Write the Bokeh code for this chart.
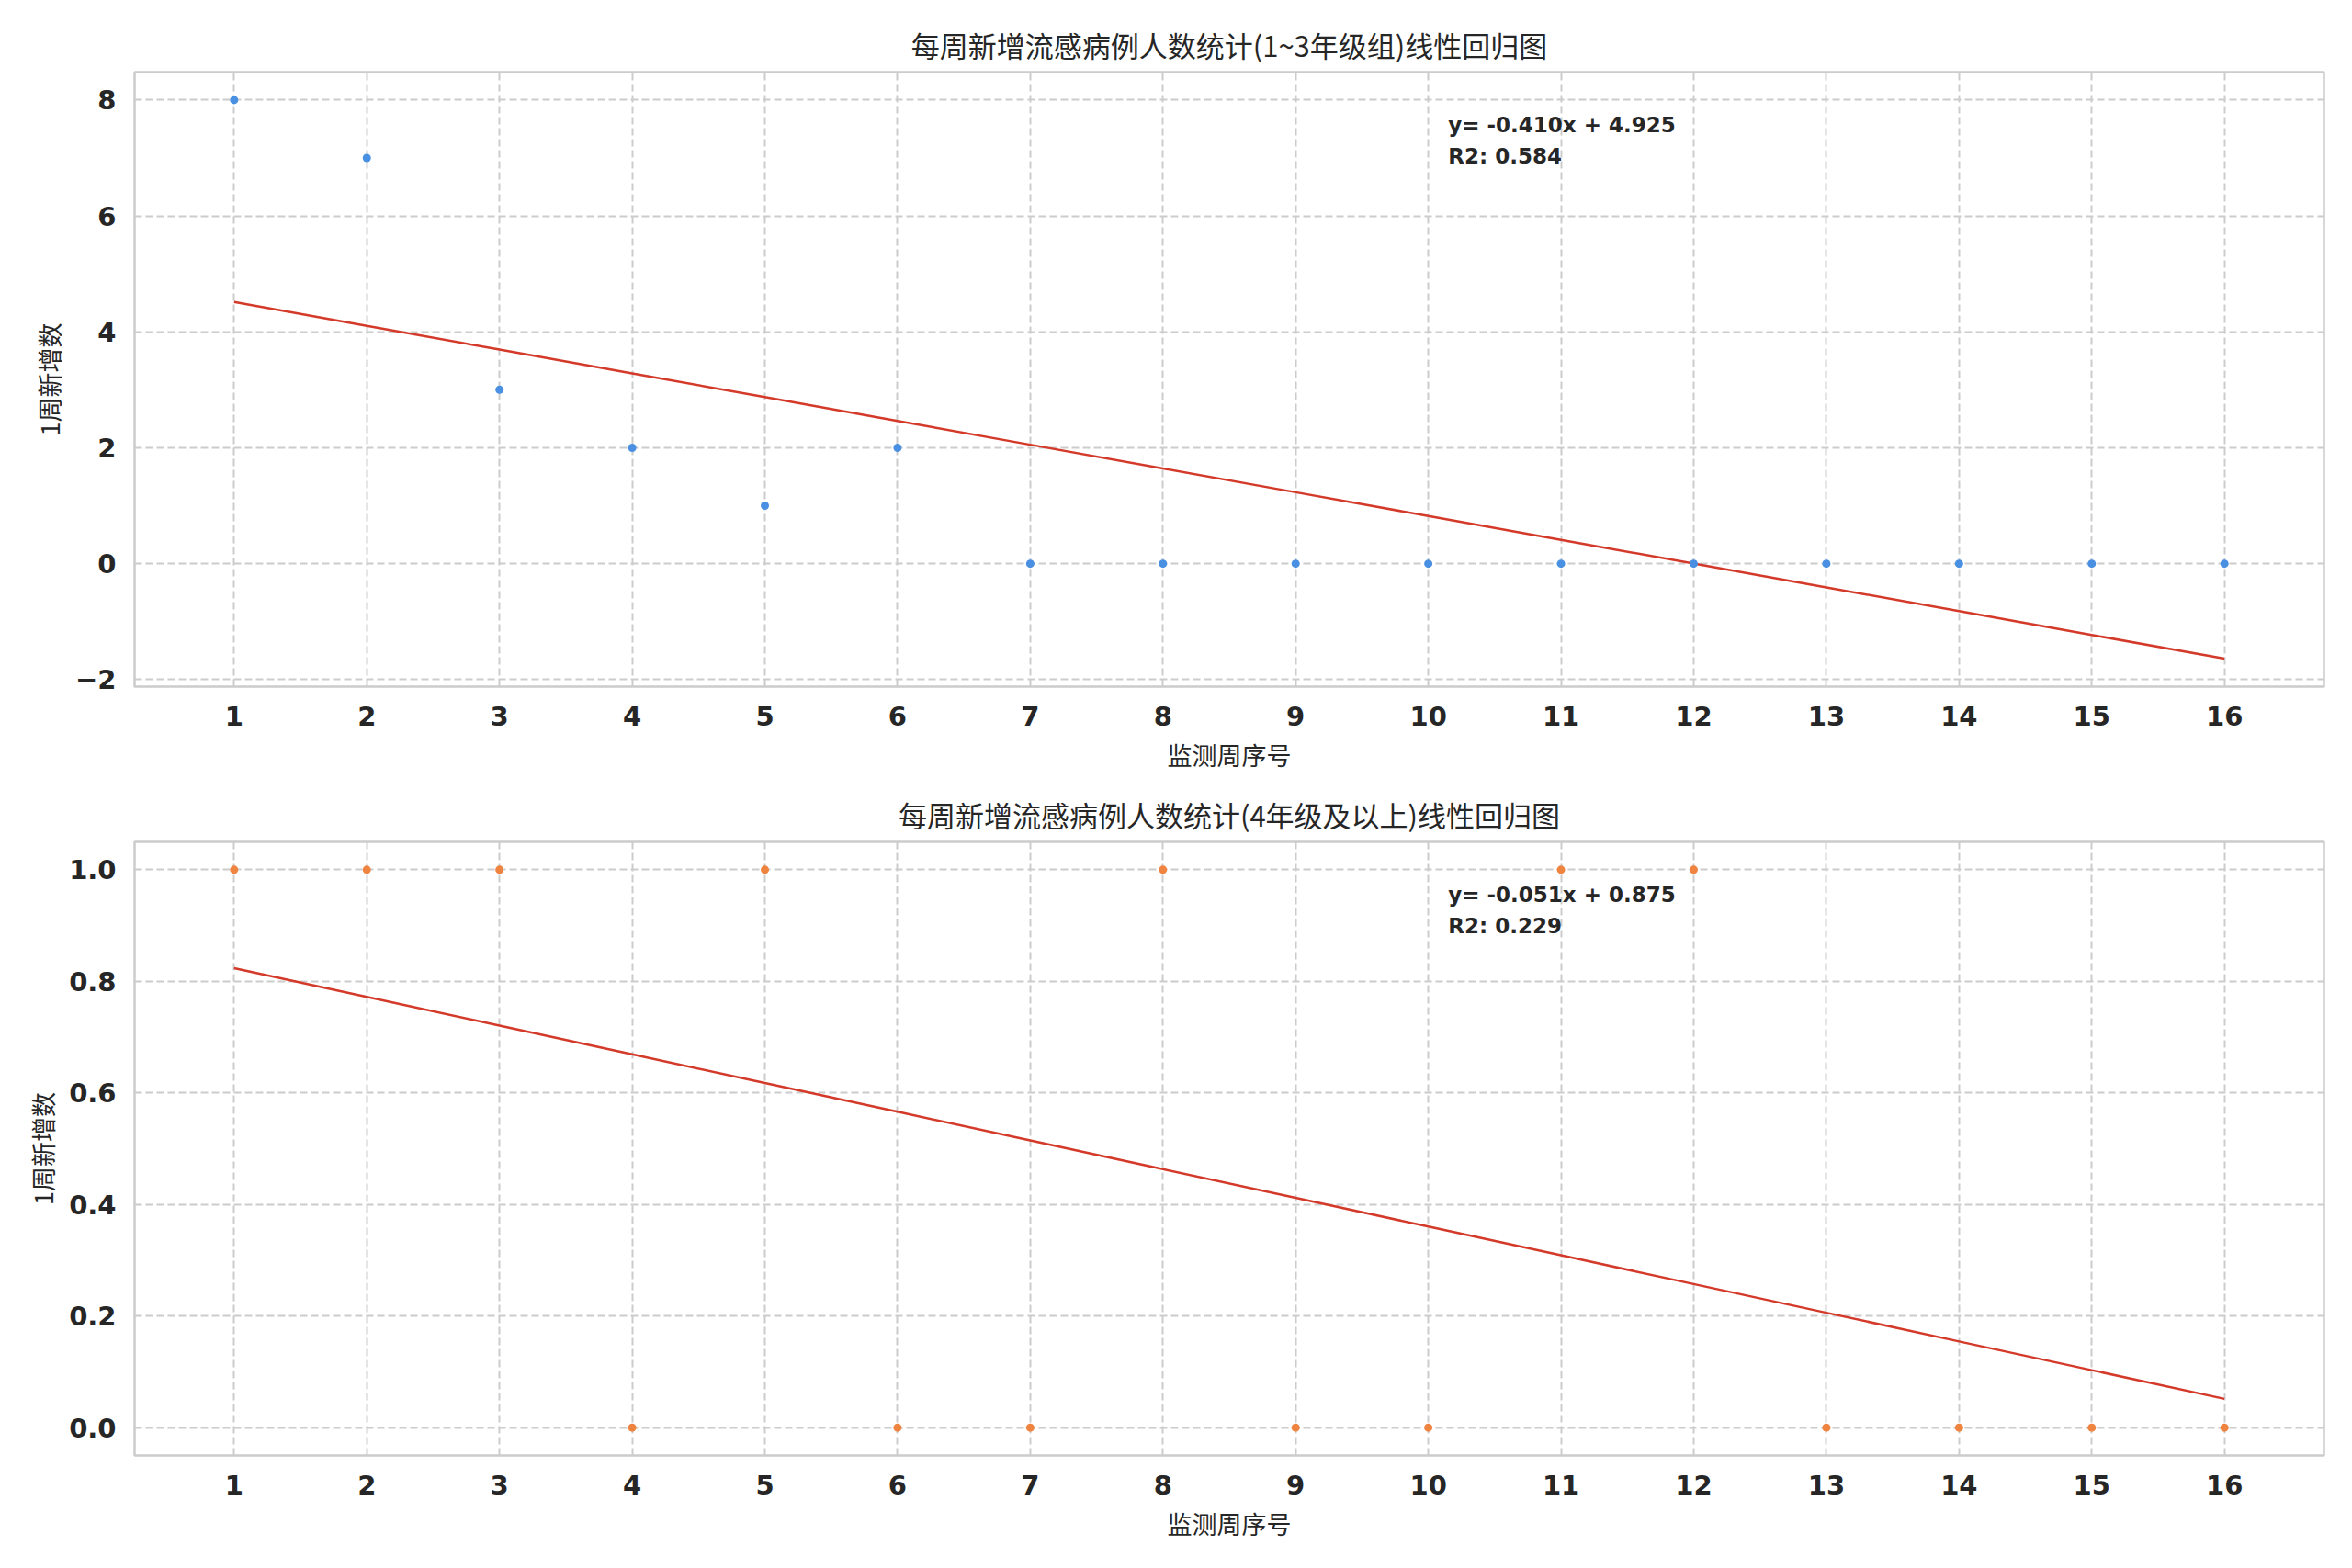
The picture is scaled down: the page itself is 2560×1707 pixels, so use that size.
import numpy as np
from bokeh.plotting import figure
from bokeh.layouts import column
from bokeh.models import Range1d, FixedTicker, Label, PrintfTickFormatter
from bokeh.embed import file_html
from bokeh.resources import INLINE

# ---------------- data ----------------
weeks = list(range(1, 17))
series_low = [8, 7, 3, 2, 1, 2, 0, 0, 0, 0, 0, 0, 0, 0, 0, 0]
series_high = [1, 1, 1, 0, 1, 0, 0, 1, 0, 0, 1, 1, 0, 0, 0, 0]

x_ticks = list(range(1, 17))
y_ticks_low = [-2, 0, 2, 4, 6, 8]
y_ticks_high = [0.0, 0.2, 0.4, 0.6, 0.8, 1.0]

title_low = "每周新增流感病例人数统计(1~3年级组)线性回归图"
title_high = "每周新增流感病例人数统计(4年级及以上)线性回归图"
x_label = "监测周序号"
y_label = "1周新增数"

color_low = "#4a90e2"
color_high = "#ef8441"
fit_color = "#d43a2a"

CJK = "Noto Sans CJK SC"
LAT = "DejaVu Sans"
TXT = "#262626"
GRID = "#cccccc"


def make_plot(y, title, color, y_ticks, height, b_top, b_bottom, fmt):
    x = np.array(weeks, dtype=float)
    yv = np.array(y, dtype=float)
    slope, intercept = np.polyfit(x, yv, 1)
    r2 = np.corrcoef(x, yv)[0, 1] ** 2
    fit = slope * x + intercept

    lo = min(yv.min(), fit.min())
    hi = max(yv.max(), fit.max())
    pad = 0.05 * (hi - lo)
    yr = Range1d(lo - pad, hi + pad)
    xpad = 0.05 * (x.max() - x.min())
    xr = Range1d(x.min() - xpad, x.max() + xpad)

    p = figure(width=2560, height=height, x_range=xr, y_range=yr,
               output_backend="svg", toolbar_location=None,
               min_border_left=146, min_border_right=31,
               min_border_top=b_top, min_border_bottom=b_bottom)
    p.background_fill_color = "white"
    p.border_fill_color = "white"
    p.outline_line_color = GRID
    p.outline_line_width = 2.5

    p.title.text = title
    p.title.text_font = CJK
    p.title.text_font_size = "31px"
    p.title.text_font_style = "normal"
    p.title.text_color = TXT
    p.title.align = "center"
    p.title.standoff = 15

    for ax in (p.xaxis[0], p.yaxis[0]):
        ax.axis_line_color = None
        ax.major_tick_line_color = None
        ax.minor_tick_line_color = None
        ax.major_tick_out = 0
        ax.major_tick_in = 0
        ax.minor_tick_out = 0
        ax.major_label_text_font = LAT
        ax.major_label_text_font_style = "bold"
        ax.major_label_text_font_size = "29px"
        ax.major_label_text_color = TXT
        ax.axis_label_text_font = CJK
        ax.axis_label_text_font_style = "normal"
        ax.axis_label_text_font_size = "27px"
        ax.axis_label_text_color = TXT

    p.xaxis[0].ticker = FixedTicker(ticks=x_ticks)
    p.yaxis[0].ticker = FixedTicker(ticks=y_ticks)
    p.xaxis[0].major_label_standoff = 21
    p.yaxis[0].major_label_standoff = 20
    p.xaxis[0].axis_label = x_label
    p.yaxis[0].axis_label = y_label
    p.xaxis[0].axis_label_standoff = 9
    p.yaxis[0].axis_label_standoff = 6
    if fmt is not None:
        p.yaxis[0].formatter = fmt
    else:
        p.yaxis[0].major_label_overrides = {t: ("\u2212" + str(abs(t)) if t < 0 else str(t)) for t in y_ticks}

    for g in (p.xgrid[0], p.ygrid[0]):
        g.grid_line_color = GRID
        g.grid_line_width = 2
        g.grid_line_dash = "8 4"

    p.line(x, fit, line_color=fit_color, line_width=2.5)
    p.scatter(x, yv, size=9, fill_color=color, line_color=None)

    span_y = yr.end - yr.start
    lx = xr.start + 0.6 * (xr.end - xr.start)
    l1 = Label(x=lx, y=yr.end - 0.067 * span_y,
               text=f"y= {slope:.3f}x + {intercept:.3f}",
               text_font=LAT, text_font_style="bold", text_font_size="23px",
               text_color=TXT, text_baseline="top", text_align="left")
    l2 = Label(x=lx, y=yr.end - 0.118 * span_y,
               text=f"R2: {r2:.3f}",
               text_font=LAT, text_font_style="bold", text_font_size="23px",
               text_color=TXT, text_baseline="top", text_align="left")
    p.add_layout(l1)
    p.add_layout(l2)
    return p


p1 = make_plot(series_low, title_low, color_low, y_ticks_low, 850, 78, 103, None)
p2 = make_plot(series_high, title_high, color_high, y_ticks_high, 857, 66, 123,
               PrintfTickFormatter(format="%.1f"))

layout = column(p1, p2, spacing=0)
open("out.html", "w").write(file_html(layout, INLINE))
